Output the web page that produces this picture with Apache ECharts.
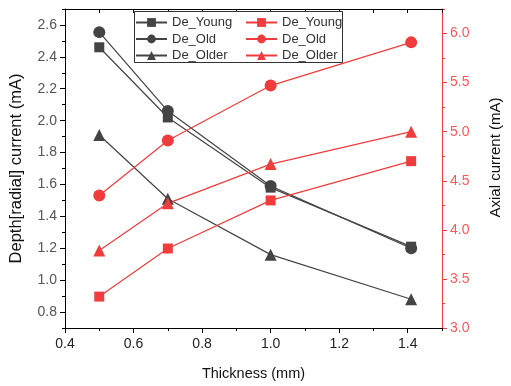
<!DOCTYPE html>
<html>
<head>
<meta charset="utf-8">
<script src="https://cdn.jsdelivr.net/npm/echarts@6/dist/echarts.min.js"></script>
<style>
  html, body { margin: 0; padding: 0; background: #fff; }
  #chart { width: 511px; height: 386px; }
</style>
</head>
<body>
<div id="chart"></div>
<script>
// x values (thickness, mm)
var thickness = [0.5, 0.7, 1.0, 1.41];
// left axis: depth (radial) current
var deYoung = [2.46, 2.02, 1.58, 1.21];
var deOld = [2.555, 2.06, 1.59, 1.20];
var deOlder = [1.91, 1.51, 1.16, 0.88];
// right axis: axial current
var axYoung = [3.32, 3.81, 4.30, 4.70];
var axOld = [4.35, 4.91, 5.47, 5.91];
var axOlder = [3.79, 4.27, 4.67, 5.00];

var xLabels = [0.4, 0.6, 0.8, 1.0, 1.2, 1.4];
var leftLabels = [0.8, 1.0, 1.2, 1.4, 1.6, 1.8, 2.0, 2.2, 2.4, 2.6];
var rightLabels = [3.0, 3.5, 4.0, 4.5, 5.0, 5.5, 6.0];

var BLACK = '#444444';
var RED = '#f03c3c';
var FONT = 'Liberation Sans, Arial, sans-serif';

function pairs(ys) {
    return thickness.map(function (x, i) { return [x, ys[i]]; });
}

var chart = echarts.init(document.getElementById('chart'));

function lineSeries(name, data, color, symbol, size, yIdx) {
    return {
        name: name, type: 'line', data: pairs(data),
        xAxisIndex: 0, yAxisIndex: yIdx,
        symbol: symbol, symbolSize: size,
        lineStyle: { color: color, width: 1.2 },
        itemStyle: { color: color },
        z: 3
    };
}

var R = ' (R)';
var legendText = { fontFamily: FONT, fontSize: 13, color: '#333', lineHeight: 15 };

chart.setOption({
    animation: false,
    grid: { left: 64, right: 52, top: 9, bottom: 58 },
    graphic: [{
        type: 'rect', z: 10,
        shape: { x: 134.5, y: 11.5, width: 208, height: 51 },
        style: { fill: '#fff', stroke: '#333', lineWidth: 1 }
    }],
    legend: [{
        data: ['De_Young', 'De_Old', 'De_Older'],
        orient: 'vertical', left: 135, top: 15, z: 11, padding: 0,
        itemWidth: 31, itemHeight: 11, itemGap: 1.5,
        textStyle: legendText
    }, {
        data: ['De_Young' + R, 'De_Old' + R, 'De_Older' + R],
        orient: 'vertical', left: 245, top: 15, z: 11, padding: 0,
        itemWidth: 31, itemHeight: 11, itemGap: 1.5,
        formatter: function (n) { return n.replace(R, ''); },
        textStyle: legendText
    }],
    xAxis: [{
        type: 'value', min: 0.4, max: 1.5, interval: 0.1, position: 'bottom',
        name: 'Thickness (mm)', nameLocation: 'middle', nameGap: 38,
        nameTextStyle: { fontFamily: FONT, fontSize: 14.5, color: '#111' },
        axisLine: { show: true, lineStyle: { color: '#000', width: 1 } },
        axisTick: { show: true, length: 3, lineStyle: { color: '#000' } },
        axisLabel: {
            customValues: xLabels, margin: 9,
            fontFamily: FONT, fontSize: 14, color: '#222',
            formatter: function (v) { return v.toFixed(1); }
        },
        splitLine: { show: false }
    }, {
        type: 'value', min: 0.4, max: 1.5, position: 'bottom',
        axisLine: { show: false },
        axisTick: { show: true, length: 5, customValues: xLabels, lineStyle: { color: '#000' } },
        axisLabel: { show: false }, splitLine: { show: false }
    }, {
        type: 'value', min: 0.4, max: 1.5, interval: 0.1, position: 'top',
        axisLine: { show: true, lineStyle: { color: '#000', width: 1 } },
        axisTick: { show: true, inside: true, length: 4, lineStyle: { color: '#000' } },
        axisLabel: { show: false }, splitLine: { show: false }
    }],
    yAxis: [{
        type: 'value', min: 0.7, max: 2.7, interval: 0.1, position: 'left',
        name: 'Depth[radial] current (mA)', nameLocation: 'middle', nameGap: 40, nameRotate: 90,
        nameTextStyle: { fontFamily: FONT, fontSize: 16.5, color: '#111' },
        axisLine: { show: true, lineStyle: { color: '#000', width: 1 } },
        axisTick: { show: true, length: 3, lineStyle: { color: '#000' } },
        axisLabel: {
            customValues: leftLabels, margin: 8,
            fontFamily: FONT, fontSize: 14, color: '#555',
            formatter: function (v) { return v.toFixed(1); }
        },
        splitLine: { show: false }
    }, {
        type: 'value', min: 3.0, max: 6.25, interval: 0.25, position: 'right',
        name: 'Axial current (mA)', nameLocation: 'middle', nameGap: 46, nameRotate: 90,
        nameTextStyle: { fontFamily: FONT, fontSize: 15, color: '#111', padding: [0, 0, 0, 22] },
        axisLine: { show: true, lineStyle: { color: RED, width: 1 } },
        axisTick: { show: true, length: 3, lineStyle: { color: RED } },
        axisLabel: {
            customValues: rightLabels, margin: 8,
            fontFamily: FONT, fontSize: 14, color: '#f55',
            formatter: function (v) { return v.toFixed(1); }
        },
        splitLine: { show: false }
    }, {
        type: 'value', min: 0.7, max: 2.7, position: 'left',
        axisLine: { show: false },
        axisTick: { show: true, length: 5, customValues: leftLabels, lineStyle: { color: '#000' } },
        axisLabel: { show: false }, splitLine: { show: false }
    }, {
        type: 'value', min: 3.0, max: 6.25, position: 'right',
        axisLine: { show: false },
        axisTick: { show: true, length: 5, customValues: rightLabels, lineStyle: { color: RED } },
        axisLabel: { show: false }, splitLine: { show: false }
    }],
    series: [
        lineSeries('De_Young', deYoung, BLACK, 'rect', 10, 0),
        lineSeries('De_Old', deOld, BLACK, 'circle', 12, 0),
        lineSeries('De_Older', deOlder, BLACK, 'triangle', 12, 0),
        lineSeries('De_Young' + R, axYoung, RED, 'rect', 10, 1),
        lineSeries('De_Old' + R, axOld, RED, 'circle', 12, 1),
        lineSeries('De_Older' + R, axOlder, RED, 'triangle', 12, 1)
    ]
});
</script>
</body>
</html>
